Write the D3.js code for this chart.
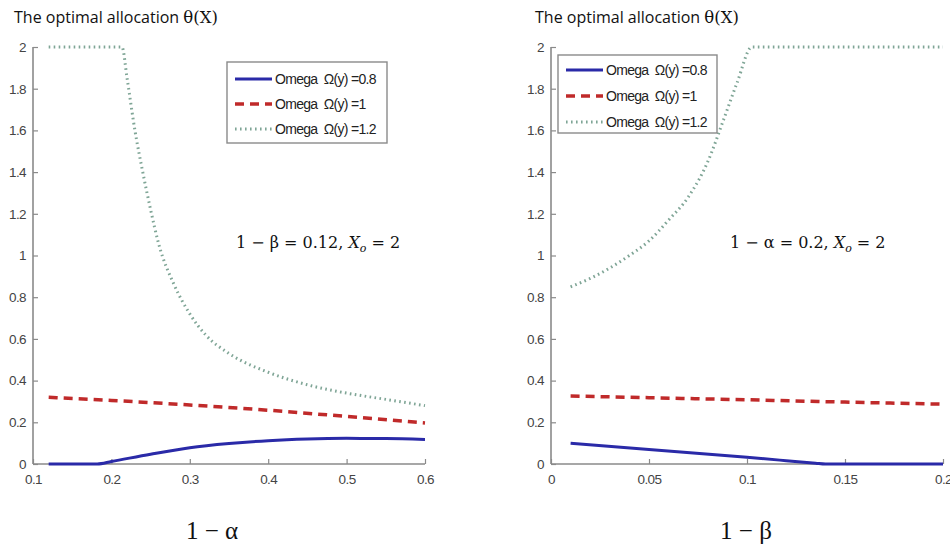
<!DOCTYPE html>
<html><head><meta charset="utf-8">
<script src="https://cdn.jsdelivr.net/npm/d3@7"></script>
<style>
body{margin:0;background:#fff;}
svg{display:block;}
</style></head>
<body><svg id="c" width="950" height="544"></svg>
<script>
// ---------- data ----------
const seriesNames = ["Omega  \u03A9(y) =0.8", "Omega  \u03A9(y) =1", "Omega  \u03A9(y) =1.2"];
const yTicks = [0, 0.2, 0.4, 0.6, 0.8, 1, 1.2, 1.4, 1.6, 1.8, 2];
const leftXTicks = [0.1, 0.2, 0.3, 0.4, 0.5, 0.6];
const rightXTicks = [0, 0.05, 0.1, 0.15, 0.2];

// left panel: x = 1 - alpha
const leftOmega08 = [[0.12,0],[0.15,0],[0.182,0],[0.2,0.012],[0.25,0.047],[0.3,0.078],[0.35,0.098],[0.4,0.112],[0.45,0.12],[0.5,0.123],[0.55,0.122],[0.6,0.118]];
const leftOmega1 = [[0.12,0.32],[0.2,0.305],[0.3,0.283],[0.4,0.258],[0.5,0.228],[0.6,0.197]];
const leftOmega12 = [[0.12,2],[0.16,2],[0.2,2],[0.2135,2],[0.22,1.85],[0.23,1.6],[0.24,1.4],[0.25,1.22],[0.26,1.06],[0.28,0.86],[0.3,0.72],[0.32,0.62],[0.35,0.53],[0.4,0.44],[0.45,0.38],[0.5,0.34],[0.55,0.31],[0.6,0.28]];

// right panel: x = 1 - beta
const rightOmega08 = [[0.01,0.099],[0.05,0.07],[0.1,0.032],[0.12,0.016],[0.135,0.004],[0.14,0],[0.17,0],[0.2,0]];
const rightOmega1 = [[0.01,0.326],[0.05,0.318],[0.1,0.308],[0.15,0.297],[0.2,0.287]];
const rightOmega12 = [[0.01,0.85],[0.02,0.89],[0.03,0.94],[0.04,1.0],[0.05,1.07],[0.06,1.17],[0.07,1.28],[0.08,1.45],[0.088,1.65],[0.095,1.83],[0.1025,2],[0.12,2],[0.15,2],[0.2,2]];

const titleText = "The optimal allocation ";
const leftXLabel = "1 \u2212 \u03B1";
const rightXLabel = "1 \u2212 \u03B2";
const leftNote = "1 \u2212 \u03B2 = 0.12, ";
const rightNote = "1 \u2212 \u03B1 = 0.2, ";

// ---------- drawing ----------
const svg = d3.select("#c");
const colors = ["#2a2aa8", "#c02a2a", "#7fa596"];
const widths = [3, 3.5, 3];
const dashes = [null, "9,6", "1.6,3.4"];
const tickFont = "'Liberation Sans',sans-serif";
const serif = "'DejaVu Serif',serif";

function condense(sel, k){
  // narrow the glyphs horizontally to mimic a condensed face
  sel.each(function(){
    const el = d3.select(this);
    const anchor = el.attr("text-anchor") || "start";
    el.attr("letter-spacing", -0.3).style("font-stretch","condensed");
  });
}

function panel(opt){
  const x = d3.scaleLinear().domain(opt.xDomain).range(opt.xRange);
  const y = d3.scaleLinear().domain([0,2]).range([464,47]);
  const g = svg.append("g");

  // title
  const t = svg.append("text").attr("x", opt.titleX).attr("y", 23)
    .attr("font-family","'Open Sans',sans-serif").attr("font-size",16).attr("fill","#111");
  t.append("tspan").text(titleText);
  t.append("tspan").attr("font-family",serif).attr("font-size",16.5).text("\u03B8(X)");

  // axes
  const ax = g.append("g").attr("transform",`translate(0,${y(0)})`)
    .call(d3.axisBottom(x).tickValues(opt.xTicks).tickSize(-5).tickPadding(10).tickFormat(d=>String(+d.toFixed(2))));
  const ay = g.append("g").attr("transform",`translate(${x(opt.xDomain[0])},0)`)
    .call(d3.axisLeft(y).tickValues(yTicks).tickSize(-5).tickPadding(7).tickFormat(d=>String(d)));
  [ax, ay].forEach(a=>{
    a.select(".domain").attr("stroke","#8a8a8a").attr("stroke-width",1.6);
    a.selectAll(".tick line").attr("stroke","#8a8a8a").attr("stroke-width",1.2);
    a.selectAll("text").attr("font-family",tickFont).attr("font-size",13.5).attr("fill","#444")
      .attr("letter-spacing",-0.6);
  });
  ax.select(".domain").attr("d", `M${opt.xRange[0]},0H${opt.xRange[1]}`);
  ay.select(".domain").attr("d", `M0,${y(0)}V${y(2)}`);

  // series
  const line = d3.line().x(d=>x(d[0])).y(d=>y(d[1])).curve(d3.curveMonotoneX);
  opt.series.forEach((s,i)=>{
    g.append("path").datum(s).attr("d",line).attr("fill","none")
      .attr("stroke",colors[i]).attr("stroke-width",widths[i])
      .attr("stroke-dasharray",dashes[i]);
  });

  // legend
  const L = opt.legend;
  g.append("rect").attr("x",L.x).attr("y",L.y).attr("width",L.w).attr("height",L.h)
    .attr("fill","#fff").attr("stroke","#8a8a8a").attr("stroke-width",1.4);
  seriesNames.forEach((n,i)=>{
    const yy = L.y + L.first + i*L.step;
    g.append("line").attr("x1",L.x+8).attr("x2",L.x+45).attr("y1",yy).attr("y2",yy)
      .attr("stroke",colors[i]).attr("stroke-width",widths[i]).attr("stroke-dasharray",dashes[i]);
    g.append("text").attr("x",L.x+48).attr("y",yy).attr("dy","0.36em")
      .attr("font-family",tickFont).attr("font-size",14).attr("fill","#222")
      .attr("letter-spacing",-0.7).attr("xml:space","preserve")
      .text(n);
  });

  // note
  const nt = g.append("text").attr("x",opt.noteX).attr("y",248)
    .attr("font-family",serif).attr("font-size",16).attr("fill","#111");
  nt.append("tspan").text(opt.note);
  nt.append("tspan").attr("font-style","italic").text("X");
  nt.append("tspan").attr("font-style","italic").attr("font-size",11).attr("dy",4).text("o");
  nt.append("tspan").attr("dy",-4).text(" = 2");

  // x label
  g.append("text").attr("x",opt.labelX).attr("y",539).attr("text-anchor","middle")
    .attr("font-family","'Liberation Serif',serif").attr("font-size",25).attr("fill","#111").text(opt.xLabel);
}

panel({xDomain:[0.1,0.6], xRange:[33,425], xTicks:leftXTicks, titleX:14,
  series:[leftOmega08,leftOmega1,leftOmega12],
  legend:{x:227,y:62,w:160,h:81,first:17,step:25},
  note:leftNote, noteX:236, xLabel:leftXLabel, labelX:212});
panel({xDomain:[0,0.2], xRange:[551,943], xTicks:rightXTicks, titleX:535,
  series:[rightOmega08,rightOmega1,rightOmega12],
  legend:{x:558,y:55,w:159,h:78,first:15,step:26},
  note:rightNote, noteX:730, xLabel:rightXLabel, labelX:746});
</script></body></html>
